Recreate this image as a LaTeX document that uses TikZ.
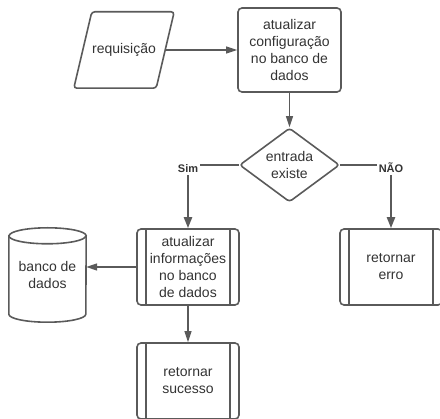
\documentclass[tikz,border=0pt]{standalone}
\usepackage{fontspec}
\setmainfont{Liberation Sans}
\usetikzlibrary{shapes.geometric, arrows.meta}
\definecolor{edgegray}{HTML}{5A5A5A}
\definecolor{textgray}{HTML}{333333}

\begin{document}
\begin{tikzpicture}[x=1pt, y=1pt,
  every node/.style={text=textgray, font=\fontsize{14}{17}\selectfont, align=center},
  box/.style={draw=edgegray, line width=1.6pt, rounded corners=4pt, minimum width=102pt, minimum height=76pt, inner sep=0pt},
  decision/.style={diamond, draw=edgegray, line width=1.6pt, rounded corners=3pt, minimum width=100pt, minimum height=74pt, aspect=1.35, inner sep=0pt},
  outline/.style={draw=edgegray, line width=1.6pt},
  flow/.style={draw=edgegray, line width=1.2pt, -{Triangle[length=11pt, width=7pt]}},
  branch/.style={draw=edgegray, line width=2.2pt},
  tag/.style={font=\bfseries\fontsize{11}{13}\selectfont, inner sep=2pt, anchor=base}
]
  % Frame of the picture
  \useasboundingbox (0,0) rectangle (440,-419);
  \clip (0,0) rectangle (440,-419);

  % Input
  \node[minimum width=82pt, minimum height=76pt, inner sep=0pt] (req) at (124,-50) {requisição};
  \draw[outline, rounded corners=3pt] ([xshift=-9pt]req.south west) -- ([xshift=9pt]req.north west)
        -- ([xshift=9pt]req.north east) -- ([xshift=-9pt]req.south east) -- cycle;

  % Process boxes
  \node[box, minimum width=103pt, minimum height=84pt] (cfg) at (289.5,-50) {atualizar\\configuração\\no banco de\\dados};
  \node[decision] (dia) at (289.5,-165) {entrada\\existe};
  \node[box] (info) at (188,-267) {atualizar\\informações\\no banco\\de dados};
  \node[box] (erro) at (391,-267) {retornar\\erro};
  \node[box] (suc) at (188,-381) {retornar\\sucesso};

  % Side bars of the subroutine boxes
  \foreach \b in {info, erro, suc} {
    \draw[outline] ([xshift=10pt]\b.north west) -- ([xshift=10pt]\b.south west);
    \draw[outline] ([xshift=-10pt]\b.north east) -- ([xshift=-10pt]\b.south east);
  }

  % Database cylinder
  \node[minimum width=77pt, minimum height=62pt, inner sep=0pt] (db) at (47.5,-275) {banco de\\dados};
  \draw[outline] ([yshift=8pt]db.north west) -- ([yshift=-8pt]db.south west)
        arc[start angle=180, end angle=360, x radius=38.5pt, y radius=8pt]
        -- ([yshift=8pt]db.north east)
        arc[start angle=0, end angle=180, x radius=38.5pt, y radius=8pt] -- cycle;
  \draw[outline] ([yshift=8pt]db.north west) arc[start angle=180, end angle=360, x radius=38.5pt, y radius=8pt];

  % Branch labels
  \node[tag] (sim) at (188,-173) {Sim};
  \node[tag] (nao) at (391,-173) {NÃO};

  % Connectors
  \draw[flow] (req.east) -- (cfg.west);
  \draw[flow] (cfg.south) -- (dia.north);
  \draw[branch] (dia.west) -- (dia.west -| sim.east);
  \draw[branch, -{Triangle[length=11pt, width=8pt]}] (sim.south) -- (info.north);
  \draw[branch] (dia.east) -- (dia.east -| nao.west);
  \draw[branch, -{Triangle[length=11pt, width=8pt]}] (nao.south) -- (erro.north);
  \draw[flow] (info.west) -- (info.west -| db.east);
  \draw[flow] (info.south) -- (suc.north);

\end{tikzpicture}
\end{document}
